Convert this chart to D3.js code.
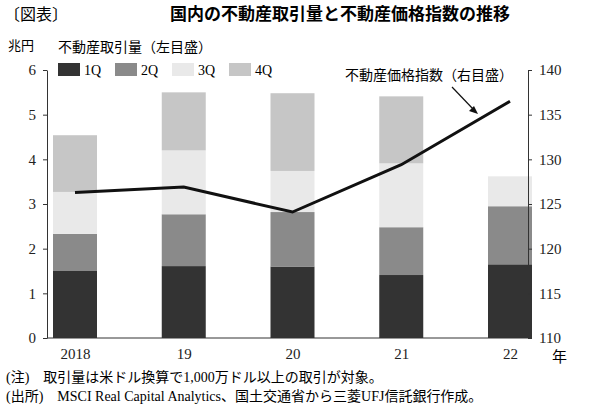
<!DOCTYPE html><html><head><meta charset="utf-8"><script src="https://cdn.jsdelivr.net/npm/d3@7"></script>
<style>body{margin:0;background:#fff}text{font-family:"Liberation Serif","Noto Sans CJK JP",serif}</style></head><body>
<svg id="c" width="600" height="407"></svg>
<script>
const years=["2018","19","20","21","22"];
const q1=[1.5,1.61,1.6,1.41,1.65];
const q2=[0.83,1.16,1.22,1.07,1.3];
const q3=[0.94,1.43,0.92,1.43,0.67];
const q4=[1.27,1.3,1.74,1.5,0];
const priceIndex=[126.3,126.9,124.1,129.4,136.5];
const leftTicks=[0,1,2,3,4,5,6];
const rightTicks=[110,115,120,125,130,135,140];
const qNames=["1Q","2Q","3Q","4Q"];
const colors=["#333333","#8a8a8a","#e9e9e9","#c6c6c6"];
const svg=d3.select("#c");
const L=47,R=528,T=70,B=338,BW=44;
const x=d3.scalePoint().domain(years).range([75,510]);
const y=d3.scaleLinear().domain([0,6]).range([B,T]);
const y2=d3.scaleLinear().domain([110,140]).range([B,T]);
const series=[q1,q2,q3,q4];
const rows=years.map((yr,i)=>{const o={yr};qNames.forEach((q,k)=>o[q]=series[k][i]);return o;});
const st=d3.stack().keys(qNames)(rows);
st.forEach((s,k)=>svg.append("g").selectAll("rect").data(s).join("rect")
 .attr("x",d=>x(d.data.yr)-BW/2).attr("width",BW)
 .attr("y",d=>y(d[1])).attr("height",d=>y(d[0])-y(d[1])).attr("fill",colors[k]));
const ga=svg.append("g").attr("transform",`translate(${L},0)`).call(d3.axisLeft(y).tickValues(leftTicks).tickFormat(d3.format("d")).tickSize(4).tickSizeOuter(0));
const gb=svg.append("g").attr("transform",`translate(${R},0)`).call(d3.axisRight(y2).tickValues(rightTicks).tickSize(4).tickSizeOuter(0));
const gx=svg.append("g").attr("transform",`translate(0,${B})`).call(d3.axisBottom(x).tickSize(0).tickPadding(10));
gx.select(".domain").attr("d",`M${L},0H${R}`);
[ga,gb,gx].forEach(g=>{g.selectAll("text").attr("font-size",15).attr("fill","#222").style("font-family","Liberation Serif");g.selectAll("line,path").attr("stroke","#333");});
ga.selectAll("text").attr("dx",-4);gb.selectAll("text").attr("dx",4);
svg.append("path").datum(priceIndex).attr("fill","none").attr("stroke","#111").attr("stroke-width",3)
 .attr("d",d3.line().x((d,i)=>x(years[i])).y(d=>y2(d)));
svg.append("text").attr("x",4).attr("y",20).attr("font-size",16).text("〔図表〕");
svg.append("text").attr("x",340).attr("y",20).attr("font-size",17).attr("font-weight","bold").attr("text-anchor","middle").text("国内の不動産取引量と不動産価格指数の推移");
svg.append("text").attr("x",8).attr("y",50).attr("font-size",13).text("兆円");
svg.append("text").attr("x",58).attr("y",52).attr("font-size",14).text("不動産取引量（左目盛）");
qNames.forEach((q,k)=>{const gx0=58+k*57;
 svg.append("rect").attr("x",gx0).attr("y",63).attr("width",22).attr("height",13).attr("fill",colors[k]);
 svg.append("text").attr("x",gx0+26).attr("y",75).attr("font-size",14).text(q);});
svg.append("text").attr("x",345).attr("y",80).attr("font-size",14).text("不動産価格指数（右目盛）");
svg.append("line").attr("x1",452).attr("y1",87).attr("x2",474).attr("y2",110).attr("stroke","#111").attr("stroke-width",1.2);
svg.append("path").attr("d","M478,114 l-9,-3 l5,-5 z").attr("fill","#111");
svg.append("text").attr("x",552).attr("y",362).attr("font-size",15).text("年");
svg.append("text").attr("x",6).attr("y",382).attr("font-size",14).text("(注)　取引量は米ドル換算で1,000万ドル以上の取引が対象。");
svg.append("text").attr("x",6).attr("y",401).attr("font-size",14).text("(出所)　MSCI Real Capital Analytics、国土交通省から三菱UFJ信託銀行作成。");
</script></body></html>
